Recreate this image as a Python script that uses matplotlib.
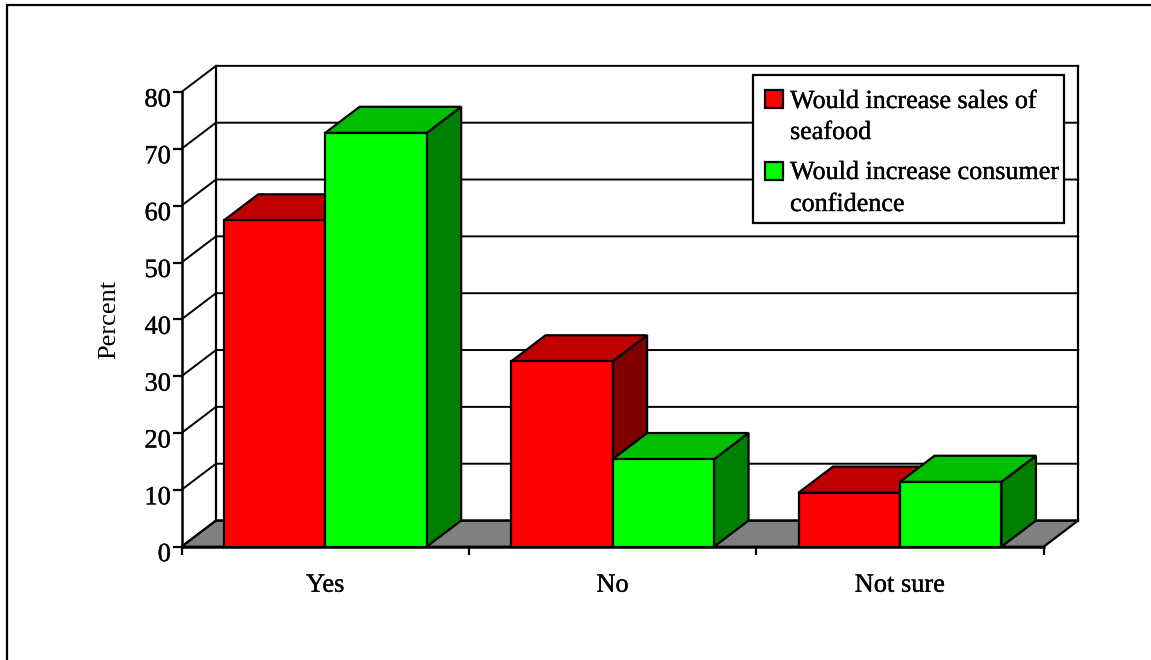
import matplotlib.pyplot as plt
import matplotlib.patheffects as pe
from matplotlib.patches import Polygon, Rectangle
from matplotlib.transforms import ScaledTranslation

categories = ['Yes', 'No', 'Not sure']
sales = [57.4, 32.6, 9.5]
confidence = [72.8, 15.4, 11.4]
legend_lines = [['Would increase sales of', 'seafood'],
                ['Would increase consumer', 'confidence']]
y_ticks = [0, 10, 20, 30, 40, 50, 60, 70, 80]

W, H = 1151, 660
plt.rcParams['font.family'] = ['Liberation Serif', 'DejaVu Serif']

# глубина псевдо-3D в единицах осей
DX = 0.12
DY = 4.6
GAP = 0.147
BAR = 0.353
LW = 1.6
heavy = [pe.withStroke(linewidth=0.25, foreground='black')]  # текст в оригинале жирнее

fig = plt.figure(figsize=(W / 100, H / 100), dpi=100)
x0, x1, y0, y1 = 181.5, 1043.7, 546.7, 92.0
ax = fig.add_axes([x0 / W, 1 - y0 / H, (x1 - x0) / W, (y0 - y1) / H])
ax.set_xlim(0, 3)
ax.set_ylim(0, 80)
ax.patch.set_visible(False)
for s in ['top', 'right']:
    ax.spines[s].set_visible(False)
for s in ['left', 'bottom']:
    ax.spines[s].set_linewidth(LW + 0.2)
    ax.spines[s].set_zorder(6)

ax.set_yticks(y_ticks)
ax.tick_params(axis='y', length=6.2, width=LW, labelsize=19, pad=1.5)
# подписи чуть ниже рисок, как в исходнике
shift = ScaledTranslation(0, -6 / 100, fig.dpi_scale_trans)
for lab in ax.get_yticklabels():
    lab.set_transform(lab.get_transform() + shift)
    lab.set_path_effects(heavy)
ax.set_xticks([0, 1, 2, 3])
ax.set_xticklabels([])
ax.tick_params(axis='x', length=6, width=LW)
ax.set_ylabel('Percent', fontsize=19)
ax.yaxis.set_label_coords((120 - x0) / (x1 - x0), (y0 - 319) / (y0 - y1))

for i, name in enumerate(categories):
    ax.annotate(name, (i + 0.5, 0), xytext=(0, -45), textcoords='offset pixels',
                ha='center', va='baseline', fontsize=19, annotation_clip=False, path_effects=heavy)

# пол и стенки
ax.add_patch(Polygon([(0, 0), (DX, DY), (3 + DX, DY), (3, 0)], closed=True, facecolor='#808080',
                     edgecolor='black', lw=LW, clip_on=False, zorder=1))
for v in y_ticks:
    ax.plot([0, DX, 3 + DX], [v, v + DY, v + DY], color='black', lw=LW - 0.2, clip_on=False, zorder=1.5,
            solid_joinstyle='miter')
ax.plot([DX, DX], [DY, 80 + DY], color='black', lw=LW, clip_on=False, zorder=1.5)
ax.plot([3 + DX, 3 + DX], [DY, 80 + DY], color='black', lw=LW, clip_on=False, zorder=1.5)


def bar3d(left, value, front, top, side, z):
    right = left + BAR
    ax.add_patch(Polygon([(right, 0), (right + DX, DY), (right + DX, value + DY), (right, value)], closed=True,
                         facecolor=side, edgecolor='black', lw=LW, clip_on=False, zorder=z))
    ax.add_patch(Polygon([(left, value), (left + DX, value + DY), (right + DX, value + DY), (right, value)],
                         closed=True, facecolor=top, edgecolor='black', lw=LW, clip_on=False, zorder=z))
    ax.add_patch(Rectangle((left, 0), BAR, value, facecolor=front, edgecolor='black', lw=LW, clip_on=False,
                           zorder=z))


for i in range(len(categories)):
    bar3d(i + GAP, sales[i], '#ff0000', '#bf0000', '#7f0000', 2 + i * 0.1)
    bar3d(i + GAP + BAR, confidence[i], '#00ff00', '#00bf00', '#007f00', 2.05 + i * 0.1)

# рамка и легенда в пикселях
over = fig.add_axes([0, 0, 1, 1])
over.set_xlim(0, W)
over.set_ylim(H, 0)
over.axis('off')
over.plot([7, 7, W], [H, 5, 5], color='black', lw=1.6, solid_joinstyle='miter')
over.add_patch(Rectangle((753.5, 75), 310.5, 148, facecolor='white', edgecolor='black', lw=LW))

swatches = [('#ff0000', 90, [108, 139]), ('#00ff00', 162, [179, 211])]
for (color, top, baselines), lines in zip(swatches, legend_lines):
    over.add_patch(Rectangle((765.5, top), 17.5, 17.5, facecolor=color, edgecolor='black', lw=LW))
    for b, t in zip(baselines, lines):
        over.text(790, b, t, fontsize=18.8, ha='left', va='baseline', path_effects=heavy)

fig.savefig('out.png', dpi=100)
